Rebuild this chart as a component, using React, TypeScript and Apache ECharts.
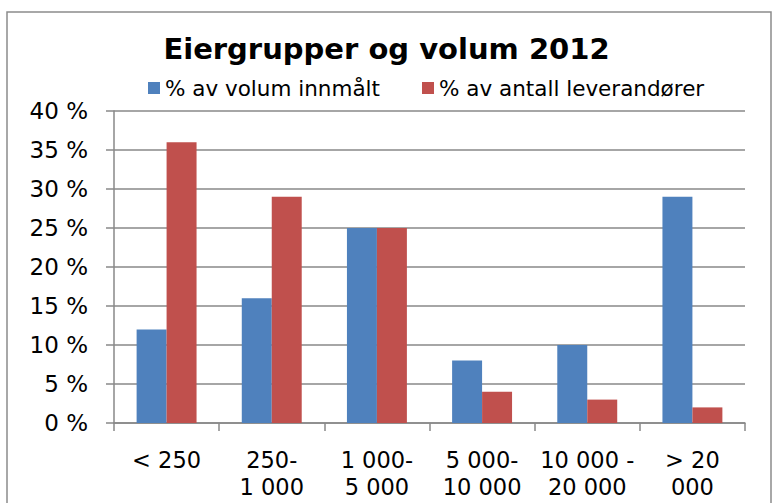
import React, { useEffect, useRef } from "react";
import * as echarts from "echarts";

const categories = ["< 250", "250-\n1 000", "1 000-\n5 000", "5 000-\n10 000", "10 000 -\n20 000", "> 20\n000"];
const volumShare = [12, 16, 25, 8, 10, 29];
const leverandorShare = [36, 29, 25, 4, 3, 2];
const seriesNames = ["% av volum innmålt", "% av antall leverandører"];
const titleText = "Eiergrupper og volum 2012";

export default function App() {
  const ref = useRef<HTMLDivElement>(null);
  useEffect(() => {
    document.body.style.margin = "0";
    const chart = echarts.init(ref.current!, null, { renderer: "svg" });
    const font = "DejaVu Sans";
    chart.setOption({
      animation: false,
      backgroundColor: "#ffffff",
      textStyle: { fontFamily: font, color: "#000" },
      title: {
        text: titleText,
        left: "center",
        top: 29,
        textStyle: { fontFamily: font, fontSize: 29, fontWeight: "bold", color: "#000" },
      },
      legend: {
        top: 72,
        left: 143,
        itemWidth: 12,
        itemHeight: 12,
        itemGap: 42,
        icon: "rect",
        textStyle: { fontFamily: font, fontSize: 21.5, color: "#000" },
        data: seriesNames,
      },
      graphic: [
        {
          type: "rect",
          shape: { x: 7, y: 12, width: 764, height: 520 },
          style: { fill: "none", stroke: "#8c8c8c", lineWidth: 1.5 },
          silent: true,
        },
      ],
      grid: { left: 114, right: 28, top: 111, bottom: 80, outerBoundsMode: "none" },
      xAxis: {
        type: "category",
        data: categories,
        axisLine: { show: true, lineStyle: { color: "#888", width: 1.5 } },
        axisTick: { show: true, length: 8, lineStyle: { color: "#888", width: 1.5 } },
        axisLabel: { fontFamily: font, fontSize: 22.5, color: "#000", lineHeight: 27.5, margin: 23, interval: 0 },
      },
      yAxis: {
        type: "value",
        min: 0,
        max: 40,
        interval: 5,
        axisLine: { show: true, lineStyle: { color: "#888", width: 1.5 } },
        axisTick: { show: true, length: 8, lineStyle: { color: "#888", width: 1.5 } },
        axisLabel: { fontFamily: font, fontSize: 23, color: "#000", margin: 26, formatter: (v: number) => v + " %" },
        splitLine: { show: true, lineStyle: { color: "#888", width: 1.5 } },
      },
      series: [
        {
          name: seriesNames[0],
          type: "bar",
          data: volumShare,
          itemStyle: { color: "#4F81BD" },
          barGap: "0%",
          barCategoryGap: "43%",
        },
        {
          name: seriesNames[1],
          type: "bar",
          data: leverandorShare,
          itemStyle: { color: "#C0504D" },
        },
      ],
    });
    return () => chart.dispose();
  }, []);
  return <div ref={ref} style={{ width: 773, height: 503 }} />;
}
